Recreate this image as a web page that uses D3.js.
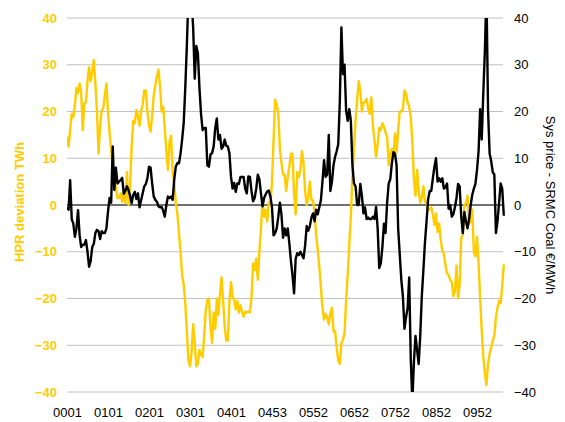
<!DOCTYPE html>
<html>
<head>
<meta charset="utf-8">
<script src="https://cdn.jsdelivr.net/npm/d3@7"></script>
<style>
  body { margin: 0; background: #fff; }
  svg { display: block; font-family: Arial, "Liberation Sans", sans-serif; }
</style>
</head>
<body>
<div class="graph"></div>
<script>
// week number (every 2nd week from 0001)
var weeks = d3.range(0, 555, 2);

// HPR deviation TWh (left axis, yellow)
var hprDeviation = [
  14.6, 12.5, 16, 19.5, 18.8, 21.5, 25, 24, 26, 24, 16, 21.7, 22, 26.5, 29.5, 26.5, 28.5, 31, 26, 20, 11, 17, 20.2, 20.8, 23.5, 26, 20, 15.5, 11.8, 8, 4.6, 4, 1.5, 1.5, 2.5, 0.7, 3, 0.4, 7, 0, 4, 12.5, 18, 17.5, 20.3, 19, 17,
  20, 21.5, 24.5, 24.5, 20, 17, 15.7, 19, 23.5, 25.5, 27.5, 29, 25.5, 20, 21, 16.5, 11.5, 7.5, 13.5, 14.8, 7, 4.5, 0.5, -2, -6, -10, -15, -17, -21, -27, -33.2, -34.5, -31.5, -25.5, -29.5, -34.5, -34, -31, -32, -32.5, -28, -22.5, -20.3, -20, -26, -29.5, -23,
  -26.5, -20, -23.5, -19, -15.5, -20.5, -26, -29, -29, -20.5, -16.5, -19.5, -20.3, -22.3, -20.5, -23, -21.5, -22.8, -23.9, -22.8, -23, -22.8, -23, -19.8, -12.5, -13.9, -11.5, -16, -10, -5, 1, -2.5, -1.1, -3.5, 0.6, 0, 5, 14, 22.5, 21.5, 19.6, 12, 9, 6.5, 6.5, 3, 6, 8.2, 11,
  11, 2.5, -2, 7, 6, 7.5, 11.5, 9, 3, 0, 1.8, 5, 1.1, 1, -1.5, -6.5, -9.5, -13.2, -17.5, -22, -24.5, -23.3, -24, -25.5, -23.2, -22, -27, -27, -30.5, -33.2, -34, -29.6, -28.8, -27.5, -20.3, -15, -8.5, -2.5, 6.2, 12.5, 18, 22.5, 26.5, 24.6, 20, 21.9, 22, 22.7,
  20.5, 19.5, 23, 17, 13.8, 10.3, 13, 16.5, 16, 17.5, 16.8, 15.5, 14.5, 8.5, 11, 12, 10, 15.3, 11.4, 15.8, 20, 20, 20.5, 24.5, 23.9, 22, 21, 18.8, 13.5, 5.5, 2, 7.5, 3, 0.5, 1.5, 4, 0.6, 0.7, -1.1, -1, -0.5, -2, -4.3, -1.8, -5.8, -4, -7.5, -9.8,
  -10.5, -12.8, -14.6, -15, -16, -16.5, -19.5, -18.5, -13, -20, -17, -7, -6.5, 0, 0.4, 2, -4, -3.5, -1, -10, -11, -6.8, -12.5, -20, -27, -32.5, -36, -38.5, -34, -31.8, -30.5, -29, -28, -24, -22, -20.5, -21, -17.3, -12.7
];

// Sys price - SRMC Coal EUR/MWh (right axis, black)
var sysMinusCoal = [
  -0.5, -1, 5.3, -3, -4, -6.8, -5, -1.1, -6.5, -9, -8.5, -8.5, -7.5, -10, -13.2, -12, -9, -8.3, -6, -5.3, -5.6, -7.3, -5.6, -6, -6, -5, -1.4, 1.5, 0.5, 12.5, 3.2, 8, 4.6, 5, 5.3, 5.8, 2.4, 3, 4, 3.2, 2, 0.4, 2.2, 2.8, 1.3, 2.5, -0.5,
  1, 2.5, 4, 4.5, 5.7, 8.2, 8, 4.6, 1.8, 1.1, 0.7, -0.3, -0.5, -0.4, -1.2, -2.5, 0, 1.8, 1.5, 1.8, 1.1, 5.5, 8.2, 9, 8.9, 11, 14, 17.5, 25, 34, 45, 48, 44, 38, 27, 34, 32.5, 25, 19.5, 16, 16.5, 16.5, 8.5, 8.2, 10.8, 11.1, 12.5,
  16.5, 18.5, 14, 15, 12, 12.5, 14, 12.7, 12.5, 11.1, 6, 3.5, 4.7, 2.8, 4.6, 4.5, 6, 6, 6, 3.5, 2.5, 6.1, 6, 3, 0.8, 1.5, 3.5, 6.5, 5.5, 2.5, -0.3, 1.5, 2.3, 2.9, 3.1, 1.8, -0.5, -6.5, -6, -5, -2.5, 0.5, -2, -7, -5, -6.5, -5, -8.2, -12,
  -15, -18.9, -11.5, -10.3, -10.7, -10, -10.7, -11.4, -8.7, -4.5, -5.5, -4.5, -2.7, -1.8, -3.5, -1, -2, -0.5, 1, 5, 9.6, 6, 6.5, 15, 3, 5, 8.5, 10.3, 11.5, 13, 22, 38, 28, 30, 20.2, 18, 20.5, 18, 8.5, 4.6, 4, 0, 0, 4.5, 2, -1.8, -0.5, -3,
  -2.7, -3, -3, -2.5, -3, -0.4, -5, -13.5, -12.5, -9, -4, -6, 0.5, 4.6, 5.5, 8.9, 11.3, 11, 8.5, -5, -10.5, -16, -19.5, -26.5, -24, -22, -15.5, -33, -42, -33.5, -28, -31, -34, -28, -19.5, -13.9, -8, -3.5, 1.2, 3, 3, 5.7, 8.2, 10, 5, 5.7, 5, 5.7,
  3.5, 3.8, 4.6, -0.8, 0, -2.5, -2, -0.5, 1.5, 4.5, 4, -2.5, -6, -1.5, -3.5, -5, -3, 0, 2.2, 3.5, 4.5, 7.5, 11.5, 20.5, 14, 24, 33, 46, 20.3, 11, 9.4, 7, 6.5, -6, -3.5, 0.5, 4.6, 3.5, -2.3
];

var tickWeeks = [0, 52, 104, 156, 208, 260, 312, 364, 416, 468, 520];
var tickLabels = ["0001", "0101", "0201", "0301", "0401", "0453", "0552", "0652", "0752", "0852", "0952"];
var yTicks = [-40, -30, -20, -10, 0, 10, 20, 30, 40];

var width = 565;
var height = 422;
var plotLeft = 67, plotRight = 503, plotTop = 18, plotBottom = 392;
var yellow = "#ffcc00";
var font = "Arial, 'Liberation Sans', sans-serif";

var svg = d3.select(".graph").append("svg")
  .attr("width", width)
  .attr("height", height);

var x = d3.scaleLinear()
  .domain([0, 520])
  .range([plotLeft, 477]);

var yLeft = d3.scaleLinear()
  .domain([-40, 40])
  .range([plotBottom, plotTop]);

var yRight = d3.scaleLinear()
  .domain([-40, 40])
  .range([plotBottom, plotTop]);

// clip top and bottom only, the series run a little past the right gridline end
svg.append("clipPath")
  .attr("id", "plot")
  .append("rect")
  .attr("x", plotLeft)
  .attr("y", plotTop)
  .attr("width", 512 - plotLeft)
  .attr("height", plotBottom - plotTop);

// gridlines
svg.append("g")
  .selectAll("line")
  .data(yTicks)
  .enter().append("line")
  .attr("x1", plotLeft)
  .attr("x2", plotRight)
  .attr("y1", d => yLeft(d))
  .attr("y2", d => yLeft(d))
  .attr("stroke", "#c0c0c0")
  .attr("stroke-width", 1);

// zero line
svg.append("line")
  .attr("x1", plotLeft)
  .attr("x2", plotRight)
  .attr("y1", yLeft(0))
  .attr("y2", yLeft(0))
  .attr("stroke", "#000")
  .attr("stroke-width", 1);

var hprLine = d3.line()
  .x((d, i) => x(weeks[i]))
  .y(d => yLeft(d));

var sysLine = d3.line()
  .x((d, i) => x(weeks[i]))
  .y(d => yRight(d));

var lines = svg.append("g").attr("clip-path", "url(#plot)");

lines.append("path")
  .datum(hprDeviation)
  .attr("fill", "none")
  .attr("stroke", yellow)
  .attr("stroke-width", 2.4)
  .attr("stroke-linejoin", "round")
  .attr("d", hprLine);

lines.append("path")
  .datum(sysMinusCoal)
  .attr("fill", "none")
  .attr("stroke", "#000")
  .attr("stroke-width", 2.4)
  .attr("stroke-linejoin", "round")
  .attr("d", sysLine);

// axes
var xAxis = d3.axisBottom(x)
  .tickValues(tickWeeks)
  .tickFormat((d, i) => tickLabels[i])
  .tickSize(0)
  .tickPadding(0);

var xAxisGroup = svg.append("g")
  .attr("transform", "translate(0,408)")
  .call(xAxis);
xAxisGroup.select(".domain").remove();
xAxisGroup.selectAll("text")
  .attr("fill", "#000")
  .style("font-size", "13px")
  .style("font-family", font);

var yLeftAxis = d3.axisLeft(yLeft)
  .tickValues(yTicks)
  .tickSize(0)
  .tickPadding(10);

var yLeftGroup = svg.append("g")
  .attr("transform", "translate(" + plotLeft + ",0)")
  .call(yLeftAxis);
yLeftGroup.select(".domain").remove();
yLeftGroup.selectAll("text")
  .attr("fill", yellow)
  .style("font-size", "13px")
  .style("font-weight", "bold")
  .style("font-family", font);

var yRightAxis = d3.axisRight(yRight)
  .tickValues(yTicks)
  .tickSize(0)
  .tickPadding(11);

var yRightGroup = svg.append("g")
  .attr("transform", "translate(" + plotRight + ",0)")
  .call(yRightAxis);
yRightGroup.select(".domain").remove();
yRightGroup.selectAll("text")
  .attr("fill", "#000")
  .style("font-size", "13px")
  .style("font-family", font);

// axis titles
svg.append("text")
  .attr("transform", "translate(24,202) rotate(-90)")
  .attr("text-anchor", "middle")
  .attr("fill", yellow)
  .style("font-size", "13px")
  .style("font-weight", "bold")
  .text("HPR deviation TWh");

svg.append("text")
  .attr("transform", "translate(546,205) rotate(90)")
  .attr("text-anchor", "middle")
  .attr("fill", "#000")
  .style("font-size", "13px")
  .text("Sys price - SRMC Coal €/MWh");
</script>
</body>
</html>
